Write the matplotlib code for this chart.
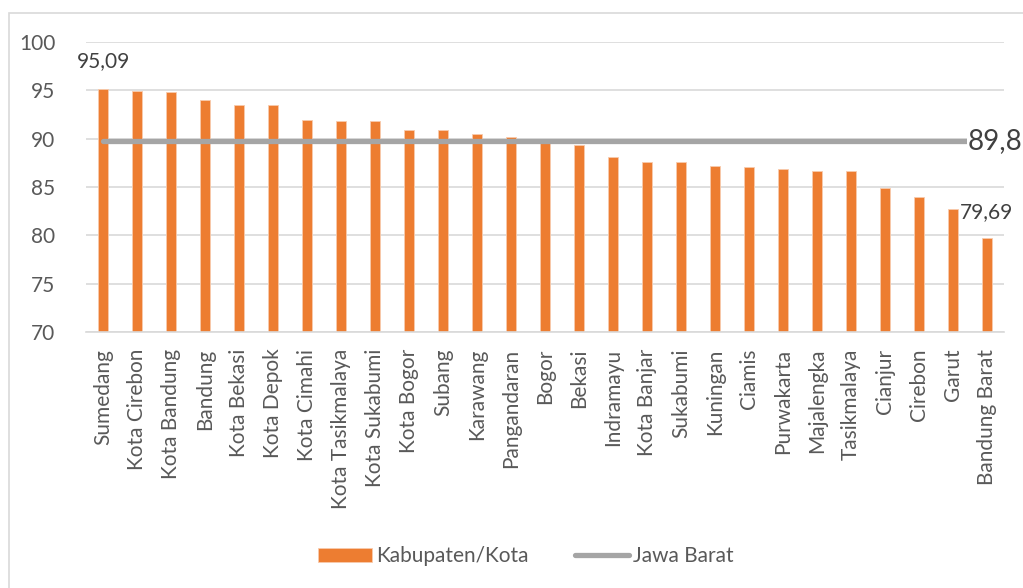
import numpy as np
import matplotlib
matplotlib.use('Agg')
import matplotlib.pyplot as plt
from matplotlib.patches import Rectangle

# data
regions = ['Sumedang', 'Kota Cirebon', 'Kota Bandung', 'Bandung', 'Kota Bekasi',
           'Kota Depok', 'Kota Cimahi', 'Kota Tasikmalaya', 'Kota Sukabumi',
           'Kota Bogor', 'Subang', 'Karawang', 'Pangandaran', 'Bogor', 'Bekasi',
           'Indramayu', 'Kota Banjar', 'Sukabumi', 'Kuningan', 'Ciamis',
           'Purwakarta', 'Majalengka', 'Tasikmalaya', 'Cianjur', 'Cirebon',
           'Garut', 'Bandung Barat']
values = [95.09, 94.90, 94.80, 94.00, 93.45, 93.45, 91.93, 91.86, 91.80,
          90.93, 90.93, 90.45, 90.14, 89.60, 89.31, 88.10, 87.59, 87.59,
          87.14, 87.04, 86.90, 86.66, 86.63, 84.87, 83.97, 82.76, 79.69]
jabar = 89.8
jabar_label = '89,8'

plt.rcParams['font.family'] = ['Lato', 'DejaVu Sans']
txt_col = '#595959'

fig = plt.figure(figsize=(10.23, 5.88), dpi=100)
ax = fig.add_axes([0.0841, 0.4354, 0.8973, 0.4932])

# light outer chart border
fig.patches.append(Rectangle((9 / 1023, -0.1), 1.2, 1 - 13 / 588 + 0.1,
                             transform=fig.transFigure, fill=False,
                             edgecolor='#D9D9D9', linewidth=1.2))

x = np.arange(len(regions))
bars = ax.bar(x, values, width=0.3, color='#ED7D31', edgecolor='#F8CBAD',
              linewidth=0.6, zorder=2, label='Kabupaten/Kota')
line, = ax.plot(x, [jabar] * len(x), color='#A5A5A5', linewidth=3.8,
                solid_capstyle='round', zorder=3, label='Jawa Barat')

ax.set_xlim(-0.5, len(regions) - 0.5)
ax.set_ylim(70, 100)
ax.set_yticks(np.arange(70, 101, 5))
ax.yaxis.grid(True, color='#D9D9D9', linewidth=1.2, zorder=0)
ax.set_axisbelow(True)
for s in ['top', 'right', 'left']:
    ax.spines[s].set_visible(False)
ax.spines['bottom'].set_color('#D9D9D9')
ax.spines['bottom'].set_linewidth(1.2)
ax.tick_params(axis='y', length=0, pad=22, labelsize=15, labelcolor=txt_col)
ax.tick_params(axis='x', length=0, pad=12, labelsize=15, labelcolor=txt_col)
ax.set_xticks(x)
ax.set_xticklabels(regions, rotation=90)

# data labels for first and last bar
ax.annotate('95,09', (x[0], values[0]), xytext=(0, 13), textcoords='offset points',
            ha='center', va='bottom', fontsize=15, color='#404040')
ax.annotate('79,69', (x[-1], values[-1]), xytext=(0, 12), textcoords='offset points',
            ha='center', va='bottom', fontsize=15, color='#404040')
ax.annotate(jabar_label, (x[-1], jabar), xytext=(-14, 0), textcoords='offset points',
            ha='left', va='center', fontsize=20, color='#404040',
            annotation_clip=False, zorder=5,
            bbox=dict(facecolor='white', edgecolor='none', pad=0.5))

fig.legend(handles=[bars, line], loc='center', bbox_to_anchor=(0.514, 0.054),
           ncol=2, frameon=False, fontsize=15, labelcolor=txt_col,
           handlelength=2.6, handletextpad=0.2, columnspacing=2.2)

fig.savefig('out.png', dpi=100)
